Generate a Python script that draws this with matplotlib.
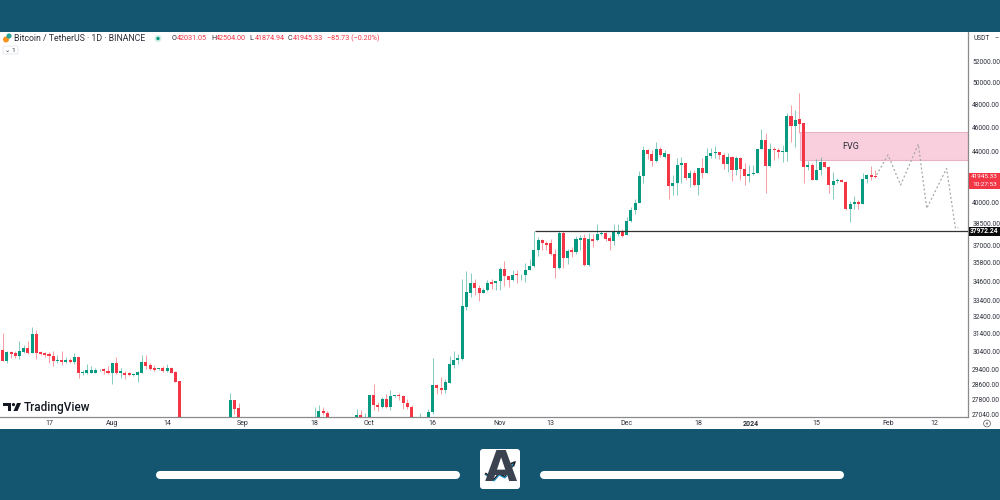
"""
BTC/USDT daily chart with FVG box, projected path and site footer.
Writes out.png.
"""
import matplotlib
matplotlib.use("Agg")
import matplotlib.pyplot as plt
from matplotlib.patches import Rectangle, FancyBboxPatch, Circle, Polygon

plt.rcParams["font.family"] = ["Roboto", "DejaVu Sans"]

# day 0 is 17 Jul 2023; days with candles wholly under the visible range are left out
days = [*range(-12, 32)] + [43, 44, 45, 63, 64, 65, 66, 73, 74, 75] + [*range(76, 87)] + [88] + [*range(90, 197)]

opens = [30300, 30490, 29870, 30350, 30310, 30140, 30360, 30600, 30310, 31420,
         30380, 30330, 30280, 30140, 29840, 29930, 29820, 29930, 29800, 30070,
         29200, 29230, 29230, 29230, 29350, 29420, 29310, 29230, 29750, 29200,
         29230, 29190, 29100, 29130, 29230, 29800, 29620, 29490, 29430, 29490,
         29310, 29490, 29260, 28770,
         26500, 27780, 27360, 26500, 26900, 27250, 27140, 26900, 27040, 26700,
         26950, 28050, 27530, 27450, 27850, 27450, 27980, 28040, 27980, 27640, 27420,
         26700,
         26950, 27160, 28550, 28420, 28320, 28700, 29640, 29910, 29970, 33020,
         33880, 34510, 34150, 33880, 34050, 34550, 34470, 34640, 35400, 34930,
         34720, 35060, 34990, 34990, 35350, 35580, 36700, 37320, 37180, 37130,
         36410, 35500, 37860, 36100, 36650, 36530, 37370, 37490, 35640, 37440,
         37320, 37770, 37830, 37490, 37250, 37790, 37880, 37700, 38660, 39470,
         39980, 42040, 44110, 43770, 43240, 44200, 43580, 43790, 41280, 41480,
         42890, 43050, 41910, 42250, 41360, 42650, 42250, 43660, 43840, 43950,
         43710, 43000, 43580, 42520, 43450, 42600, 42070, 42170, 42250, 44170,
         44950, 42840, 44170, 44110, 43950, 43950, 46970, 46110, 46690, 46350,
         42770, 42900, 41740, 42510, 43160, 42770, 41350, 41660, 41710, 41610,
         39530, 39900, 40090, 39930, 41820, 42130, 42031]

highs = [30900, 31450, 30400, 30400, 30450, 31000, 30790, 30970, 31800, 31600,
         30450, 30370, 30370, 30420, 30190, 30420, 30070, 30010, 30310, 30100,
         29370, 29720, 29580, 29490, 29430, 29490, 29610, 29750, 30070, 29490,
         29320, 29250, 29200, 29320, 30220, 30190, 29750, 29660, 29510, 29580,
         29720, 29540, 29310, 28800,
         28175, 27780, 27630, 27440, 27510, 27440, 27210, 27330, 27260, 27120,
         28050, 28630, 27680, 27940, 28100, 28320, 28070, 28160, 28050, 27850, 27510,
         27120,
         27330, 30010, 28600, 29000, 28890, 30150, 30450, 30250, 34750, 35290,
         35120, 34780, 34360, 34150, 34720, 34780, 34640, 35520, 35940, 34930,
         35310, 35350, 35100, 35830, 36040, 37980, 37560, 37420, 37250, 37420,
         36770, 37950, 37950, 36770, 36840, 37660, 37730, 37800, 37850, 37800,
         38450, 37950, 37900, 37730, 38450, 38500, 38120, 39000, 39730, 40280,
         42460, 44470, 44200, 44110, 44750, 44390, 44110, 43790, 42120, 43450,
         43530, 43050, 42520, 42520, 42650, 43450, 44310, 44310, 44450, 43980,
         43840, 43840, 43630, 43630, 43530, 43050, 42920, 42920, 44170, 45870,
         45500, 44720, 44390, 44250, 44530, 47230, 47950, 47510, 48990, 46350,
         43210, 43030, 43360, 43550, 43210, 42850, 42330, 41870, 41790, 41660,
         40160, 40540, 40210, 42250, 42180, 42850, 42504]

lows = [29900, 29850, 29750, 30010, 30060, 29960, 30310, 30280, 30300, 29960,
        30190, 30100, 29750, 29580, 29750, 29670, 29750, 29750, 29720, 28940,
        29120, 29170, 29200, 29200, 29320, 29170, 29170, 28600, 29170, 28950,
        28880, 29060, 29060, 28730, 29230, 29430, 29350, 29330, 29400, 29280,
        29280, 29200, 28730, 26400,
        26400, 27070, 26800, 26400, 26800, 27040, 26800, 26800, 26800, 26600,
        26900, 27300, 27220, 27390, 27390, 27300, 27940, 27770, 27330, 27330, 26900,
        26600,
        26900, 27070, 28100, 28100, 28130, 28680, 29490, 29700, 29940, 32820,
        33640, 33730, 33380, 33840, 34010, 34090, 34050, 34050, 34300, 34220,
        34640, 34470, 34720, 34570, 35350, 35560, 36290, 36700, 36700, 36360,
        34800, 35430, 35500, 35760, 36170, 36410, 36650, 35620, 35570, 36890,
        37250, 37700, 37250, 36700, 37010, 37650, 37550, 37700, 38600, 39220,
        39980, 41480, 43370, 42840, 43180, 43580, 43500, 40280, 40610, 40610,
        41480, 41730, 41230, 41280, 40610, 41860, 42250, 43450, 43450, 43370,
        42570, 42390, 41680, 42120, 41730, 41360, 41610, 42120, 42250, 44170,
        40780, 42780, 43320, 43450, 43180, 43260, 44810, 44390, 45500, 41530,
        42510, 41740, 41740, 42130, 42690, 40710, 40270, 41480, 41560, 39490,
        38590, 39550, 39550, 39930, 41480, 41740, 41874]

closes = [30100, 29890, 30360, 30280, 30140, 30400, 30600, 30330, 31420, 30310,
          30280, 30220, 30140, 29840, 29930, 29800, 29930, 29800, 30070, 29200,
          29290, 29400, 29400, 29350, 29380, 29300, 29200, 29750, 29230, 29320,
          29130, 29100, 29160, 29290, 29800, 29600, 29440, 29400, 29490, 29310,
          29490, 29230, 28750, 26800,
          27780, 27325, 26900, 26900, 27250, 27130, 26900, 27040, 26950, 26850,
          28050, 27510, 27420, 27850, 27420, 27990, 28040, 27980, 27640, 27420, 26950,
          26850,
          27160, 28550, 28400, 28320, 28730, 29720, 29910, 30010, 33080, 33910,
          34510, 34150, 33880, 34070, 34510, 34450, 34640, 35400, 34930, 34720,
          35040, 34990, 35040, 35350, 35620, 36700, 37320, 37130, 37040, 36410,
          35500, 37860, 36100, 36600, 36530, 37420, 37490, 35640, 37440, 37300,
          37800, 37850, 37440, 37250, 37880, 37880, 37650, 38660, 39470, 39980,
          42040, 44110, 43770, 43240, 44170, 43710, 43840, 41280, 41480, 42890,
          43050, 41910, 42250, 41360, 42650, 42250, 43660, 43840, 43980, 43710,
          43000, 43580, 42520, 43450, 42600, 42070, 42170, 42300, 44170, 44950,
          42840, 44170, 44110, 43950, 44060, 46970, 46150, 46670, 46290, 42770,
          42900, 41740, 42510, 43160, 42770, 41350, 41660, 41710, 41610, 39530,
          39900, 40090, 39930, 41820, 42130, 41950, 41945]

# 42000 sits under the last-price tag in the reference, so it is not listed
price_ticks = [52000, 50000, 48000, 46000, 44000, 40000, 38500, 37000, 35800,
               34600, 33400, 32400, 31400, 30400, 29400, 28600, 27800, 27040]

date_days = [0, 15, 28, 46, 63, 76, 91, 107, 119, 137, 154, 166.5, 182, 199, 210]
date_labels = ["17", "Aug", "14", "Sep", "18", "Oct", "16", "Nov", "13", "Dec", "18", "2024", "15", "Feb", "12"]

# hand drawn projection after the last candle
path_days = [196.3, 199, 202, 206.2, 208.2, 212.9, 215, 215.7]
path_prices = [42130, 43710, 41350, 44580, 39600, 42640, 38170, 38200]

level_start = 115.2
level_price = 37972.24
fvg_start = 178.1
fvg_low, fvg_high = 43310, 45630

TEAL = "#14556f"
GREEN = "#089981"
RED = "#f23645"
TXT = "#2a2e39"

fig = plt.figure(figsize=(10, 5), dpi=100, facecolor=TEAL)

# pixel-coordinate layers: one under the chart, one on top
bg = fig.add_axes([0, 0, 1, 1], zorder=0)
bg.set_xlim(0, 1000); bg.set_ylim(500, 0); bg.axis("off")
bg.add_patch(Rectangle((0, 32), 1000, 397, color="white", lw=0))

ax = fig.add_axes([0, (500 - 417) / 500, 0.968, 385 / 500], zorder=1)
ax.patch.set_alpha(0)
ax.set_yscale("log")
ax.set_xlim(-11.62, 217.98)
ax.set_ylim(26930, 54864)

# candles
cols = [GREEN if c >= o else RED for o, c in zip(opens, closes)]
ax.vlines(days, lows, highs, colors=cols, lw=0.7, alpha=0.5, zorder=2)
bots = [min(o, c) for o, c in zip(opens, closes)]
hts = [abs(o - c) for o, c in zip(opens, closes)]
ax.bar(days, hts, bottom=bots, width=0.72, color=cols, lw=0, zorder=3)

# FVG box, key level, projection
ax.axhspan(fvg_low, fvg_high, xmin=(fvg_start + 11.62) / 229.6, xmax=1,
           facecolor="#f9cfdd", edgecolor="#eab2c8", lw=0.8, zorder=1)
ax.text(190.2, 44360, "FVG", fontsize=6.5, color=TXT, ha="center", va="center", zorder=4)
ax.hlines(level_price, level_start, 217.98, color="#333333", lw=0.9, zorder=4)
ax.plot(path_days, path_prices, color="#a8a8a8", lw=0.9, ls=(0, (1.6, 1.8)), zorder=4)

# axes
ax.minorticks_off()
ax.yaxis.tick_right()
ax.set_yticks(price_ticks)
ax.set_yticklabels([f"{p:.2f}" for p in price_ticks], fontsize=4.8, color=TXT)
ax.yaxis.set_minor_locator(plt.NullLocator())
ax.set_xticks(date_days)
ax.set_xticklabels(date_labels, fontsize=5, color=TXT)
ax.get_xticklabels()[date_labels.index("2024")].set_fontweight("bold")
ax.tick_params(axis="both", length=0)
ax.tick_params(axis="y", pad=3)
ax.tick_params(axis="x", pad=2.5)
for s in ["top", "left"]:
    ax.spines[s].set_visible(False)
for s in ["right", "bottom"]:
    ax.spines[s].set_color("#8a8a8a")
    ax.spines[s].set_linewidth(0.9)

over = fig.add_axes([0, 0, 1, 1], zorder=5)
over.set_xlim(0, 1000); over.set_ylim(500, 0); over.axis("off")

# header legend
over.add_patch(Circle((6, 39.5), 3, color="#f7931a", lw=0))
over.add_patch(Circle((9, 36), 2.6, color="#26a69a", lw=0))
over.text(14, 38.5, "Bitcoin / TetherUS · 1D · BINANCE", fontsize=6.35, color=TXT, va="center")
over.add_patch(Circle((158, 38.5), 3.6, color="#d5f0ea", lw=0))
over.add_patch(Circle((158, 38.5), 1.7, color=GREEN, lw=0))
for x, head, val in [(172, "O", "42031.05"), (211, "H", "42504.00"), (249.5, "L", "41874.94"), (288, "C", "41945.33")]:
    over.text(x, 38.5, head, fontsize=5.2, color=TXT, va="center")
    over.text(x + 5, 38.5, val, fontsize=5.2, color=RED, va="center")
over.text(327, 38.5, "−85.73 (−0.20%)", fontsize=5.2, color=RED, va="center")
over.add_patch(FancyBboxPatch((3, 46), 15, 8, boxstyle="round,pad=0,rounding_size=1.5",
                              fc="white", ec="#e0e3eb", lw=0.6))
over.text(10.5, 50, "⌄ 1", fontsize=4.6, color=TXT, ha="center", va="center")
over.text(973, 38.5, "USDT", fontsize=4.8, color=TXT, va="center")
over.text(997, 38.5, "–", fontsize=4.8, color=TXT, ha="center", va="center")

# price tags on the right scale
over.add_patch(Rectangle((969, 173), 31, 15.5, color=RED, lw=0))
over.text(984.5, 177, "41945.33", fontsize=4.6, color="white", ha="center", va="center")
over.text(984.5, 184.5, "10:27:53", fontsize=4.6, color="white", ha="center", va="center")
over.add_patch(Rectangle((969, 226.5), 31, 9.5, color="#0b0b0b", lw=0))
over.text(984.5, 231, f"{level_price:.2f}", fontsize=4.8, color="white", fontweight="bold", ha="center", va="center")
over.add_patch(Circle((987, 423.5), 3.4, fc="white", ec="#555555", lw=0.5))
over.add_patch(Circle((987, 423.5), 1.2, fc="#888888", lw=0))

# TradingView mark
over.add_patch(Polygon([(3, 403), (11, 403), (11, 411), (8, 411), (8, 406), (3, 406)], color="#131722", lw=0))
over.add_patch(Circle((13.5, 404.6), 1.6, color="#131722", lw=0))
over.add_patch(Polygon([(17, 403), (21, 403), (17.5, 411), (13.5, 411)], color="#131722", lw=0))
over.text(24, 407.3, "TradingView", fontsize=8.5, fontweight="medium", color="#131722", va="center")

# footer bars and logo
for x0, x1 in [(160, 456), (544, 840)]:
    over.plot([x0, x1], [475.3, 475.3], color="white", lw=5.8, solid_capstyle="round")
over.add_patch(FancyBboxPatch((483, 452), 34, 34, boxstyle="round,pad=3,rounding_size=3", fc="white", lw=0))
over.text(500.5, 469, "A", fontsize=30, fontweight="bold", color="#39424e", ha="center", va="center",
          family="DejaVu Sans")
over.plot([486, 494, 499, 505, 514], [474, 480, 474, 477, 463], color="#1c1c1c", lw=1.6)
over.plot([486, 494, 499, 505, 513], [475, 481, 475, 478, 464], color="#2aa0dc", lw=0.8)
over.add_patch(Polygon([(516, 461), (510, 463), (514, 467)], color="#1c1c1c", lw=0))

fig.savefig("out.png", dpi=100, facecolor=TEAL)
